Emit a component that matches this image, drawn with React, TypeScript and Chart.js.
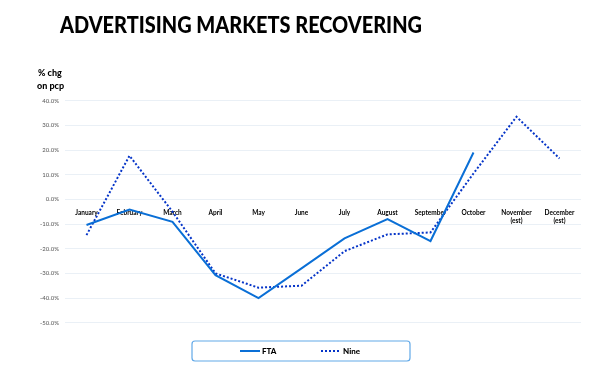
import React, { useEffect, useRef } from "react";
import { Chart, registerables } from "chart.js";

Chart.register(...registerables);

const TITLE = "ADVERTISING MARKETS RECOVERING";
const Y_LABEL = ["% chg", "on pcp"];
const MONTHS: (string | string[])[] = [
  "January", "February", "March", "April", "May", "June", "July",
  "August", "September", "October", ["November", "(est)"], ["December", "(est)"],
];
const FTA: (number | null)[] = [-10.4, -4.1, -9.1, -30.7, -40.0, -28.0, -15.8, -8.0, -16.9, 19.0, null, null];
const NINE: number[] = [-14.5, 17.7, -5.0, -30.0, -35.8, -35.0, -21.0, -14.2, -13.4, 10.5, 33.5, 16.6];
const Y_MIN = -50;
const Y_MAX = 40;
const Y_STEP = 10;

const FONT = "Lato, 'Open Sans', sans-serif";

const decorPlugin = {
  id: "decor",
  afterDraw(chart: any) {
    const ctx = chart.ctx as CanvasRenderingContext2D;
    ctx.save();
    // Title: cap height ~17px, spans x 60..422
    const size = 23.5;
    ctx.font = `900 ${size}px ${FONT}`;
    const w = ctx.measureText(TITLE).width;
    ctx.fillStyle = "#000";
    ctx.textAlign = "left";
    ctx.textBaseline = "alphabetic";
    ctx.save();
    ctx.translate(60, 33.3);
    ctx.scale(362 / w, 1);
    ctx.fillText(TITLE, 0, 0);
    ctx.restore();
    // Y label
    ctx.font = `900 9px ${FONT}`;
    ctx.textBaseline = "middle";
    ctx.fillText(Y_LABEL[0], 38, 73);
    ctx.fillText(Y_LABEL[1], 37, 86);
    // Legend box
    const bx = 192, by = 341, bw = 218, bh = 20, r = 3;
    ctx.beginPath();
    ctx.moveTo(bx + r, by);
    ctx.lineTo(bx + bw - r, by);
    ctx.arcTo(bx + bw, by, bx + bw, by + r, r);
    ctx.lineTo(bx + bw, by + bh - r);
    ctx.arcTo(bx + bw, by + bh, bx + bw - r, by + bh, r);
    ctx.lineTo(bx + r, by + bh);
    ctx.arcTo(bx, by + bh, bx, by + bh - r, r);
    ctx.lineTo(bx, by + r);
    ctx.arcTo(bx, by, bx + r, by, r);
    ctx.closePath();
    ctx.strokeStyle = "#62a9e8";
    ctx.lineWidth = 1.2;
    ctx.stroke();
    const items = chart.data.datasets.map((d: any, i: number) => ({
      label: d.label, color: d.borderColor, dash: d.borderDash || [], x: i === 0 ? 240 : 321,
    }));
    const ly = by + bh / 2;
    items.forEach((it: any) => {
      ctx.beginPath();
      ctx.setLineDash(it.dash);
      ctx.strokeStyle = it.color;
      ctx.lineWidth = 2;
      ctx.moveTo(it.x, ly);
      ctx.lineTo(it.x + 20, ly);
      ctx.stroke();
      ctx.setLineDash([]);
      ctx.font = `900 8px ${FONT}`;
      ctx.fillStyle = "#000";
      ctx.textBaseline = "middle";
      ctx.fillText(it.label, it.x + 22, ly + 0.5);
    });
    ctx.restore();
  },
};

export default function App() {
  const ref = useRef<HTMLCanvasElement>(null);
  useEffect(() => {
    if (!ref.current) return;
    const chart = new Chart(ref.current, {
      type: "line",
      data: {
        labels: MONTHS as any,
        datasets: [
          {
            label: "FTA",
            data: FTA,
            borderColor: "#0a6fd6",
            borderWidth: 2,
            pointRadius: 0,
            tension: 0,
            spanGaps: false,
          },
          {
            label: "Nine",
            data: NINE,
            borderColor: "#0534c8",
            borderWidth: 2,
            borderDash: [2, 2],
            pointRadius: 0,
            tension: 0,
          },
        ],
      },
      options: {
        animation: false,
        responsive: false,
        maintainAspectRatio: false,
        layout: { padding: { left: 0, right: 19, top: 100.7, bottom: 54.3 } },
        plugins: { legend: { display: false }, title: { display: false }, tooltip: { enabled: false } },
        scales: {
          x: {
            position: { y: 0 } as any,
            offset: true,
            grid: { display: false },
            border: { display: false },
            ticks: {
              color: "#000",
              font: { family: FONT, size: 6.5, weight: "bold" },
              padding: 2,
              maxRotation: 0,
              autoSkip: false,
            },
          },
          y: {
            min: Y_MIN,
            max: Y_MAX,
            afterFit: (s: any) => { s.width = 65; },
            ticks: {
              stepSize: Y_STEP,
              color: "#555",
              padding: 6,
              font: { family: FONT, size: 6 },
              callback: (v: any) => Number(v).toFixed(1) + "%",
            },
            grid: { color: "#eaf0f6", lineWidth: 1, drawTicks: false },
            border: { display: false },
          },
        },
      },
      plugins: [decorPlugin],
    });
    return () => chart.destroy();
  }, []);
  return (
    <div style={{ position: "fixed", left: 0, top: 0, width: 600, height: 377, background: "#fff" }}>
      <canvas ref={ref} width={600} height={377} style={{ width: 600, height: 377 }} />
    </div>
  );
}
